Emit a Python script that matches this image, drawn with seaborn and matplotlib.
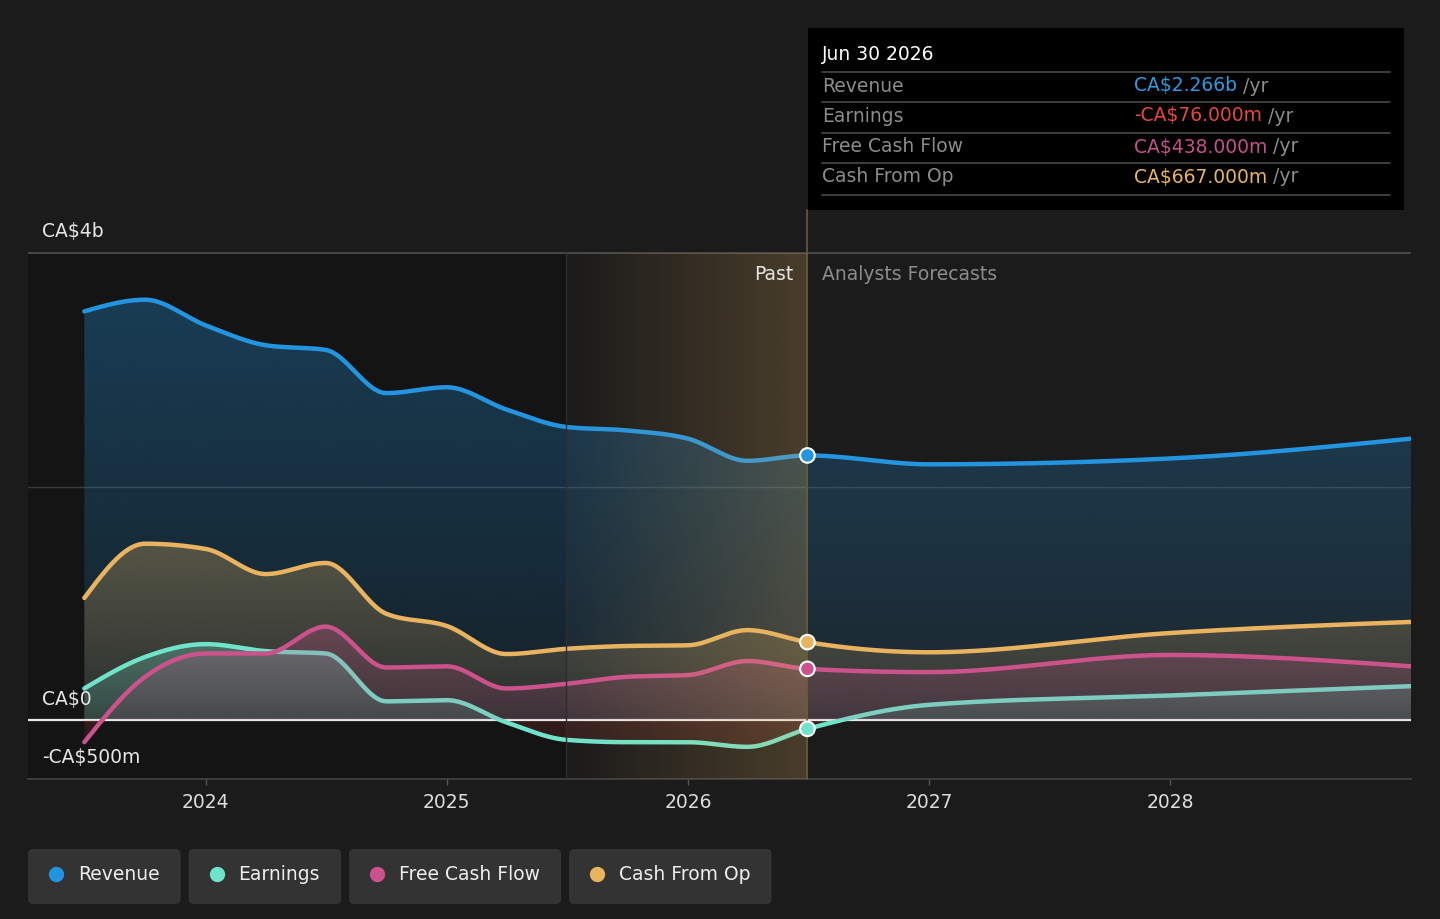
import numpy as np
import pandas as pd
import matplotlib
matplotlib.use("Agg")
import matplotlib.pyplot as plt
import seaborn as sns
from matplotlib.colors import to_rgb
from matplotlib.patches import Polygon, FancyBboxPatch, Rectangle
from matplotlib.lines import Line2D

# values in CA$ billions
past_dates = ["2023-06-30", "2023-09-30", "2023-12-31", "2024-03-31", "2024-06-30",
              "2024-09-30", "2024-12-31", "2025-03-31", "2025-06-30", "2025-09-30",
              "2025-12-31", "2026-03-31", "2026-06-30"]
forecast_dates = ["2026-12-31", "2027-12-31", "2028-12-31"]

revenue_past = [3.50, 3.60, 3.38, 3.21, 3.17, 2.80, 2.85, 2.66, 2.51, 2.48, 2.41, 2.22, 2.266]
revenue_fc = [2.19, 2.24, 2.41]
earnings_past = [0.27, 0.54, 0.65, 0.59, 0.57, 0.16, 0.17, -0.02, -0.17, -0.19, -0.19, -0.23, -0.076]
earnings_fc = [0.13, 0.21, 0.29]
fcf_past = [-0.19, 0.37, 0.57, 0.57, 0.80, 0.45, 0.46, 0.27, 0.31, 0.37, 0.385, 0.505, 0.438]
fcf_fc = [0.41, 0.557, 0.46]
cfo_past = [1.045, 1.51, 1.465, 1.25, 1.345, 0.91, 0.805, 0.565, 0.61, 0.634, 0.64, 0.77, 0.667]
cfo_fc = [0.58, 0.745, 0.84]

series_names = ["Revenue", "Earnings", "Free Cash Flow", "Cash From Op"]
series_colors = ["#2394df", "#70e3cb", "#cc528c", "#e9b360"]
tooltip_values = ["CA$2.266b", "-CA$76.000m", "CA$438.000m", "CA$667.000m"]
tooltip_colors = ["#2d9be0", "#e5483f", "#c5508c", "#e8b45f"]
year_ticks = [2024, 2025, 2026, 2027, 2028]

W, H = 1440, 919
BG = "#1b1b1b"


def fx(px):
    return px / W


def fy(py):
    return 1 - py / H


def dec_year(dates):
    d = pd.to_datetime(pd.Series(dates))
    days = np.where(d.dt.is_leap_year, 366, 365)
    return (d.dt.year + d.dt.dayofyear / days).to_numpy(float)


def monotone(xs, ys, n=2000):
    # monotone cubic (same idea as d3 curveMonotoneX)
    xs = np.asarray(xs, float)
    ys = np.asarray(ys, float)
    h = np.diff(xs)
    s = np.diff(ys) / h
    m = np.zeros(len(xs))
    for i in range(1, len(xs) - 1):
        p = (s[i - 1] * h[i] + s[i] * h[i - 1]) / (h[i - 1] + h[i])
        m[i] = (np.sign(s[i - 1]) + np.sign(s[i])) * min(abs(s[i - 1]), abs(s[i]), 0.5 * abs(p))
    m[0] = (3 * s[0] - m[1]) / 2
    m[-1] = (3 * s[-1] - m[-2]) / 2
    xd = np.linspace(xs[0], xs[-1], n)
    k = np.clip(np.searchsorted(xs, xd) - 1, 0, len(xs) - 2)
    t = (xd - xs[k]) / h[k]
    h00 = 2 * t**3 - 3 * t**2 + 1
    h10 = t**3 - 2 * t**2 + t
    h01 = -2 * t**3 + 3 * t**2
    h11 = t**3 - t**2
    yd = h00 * ys[k] + h10 * h[k] * m[k] + h01 * ys[k + 1] + h11 * h[k] * m[k + 1]
    return xd, yd


def gradient_fill(ax, xs, ys, color, a_edge, a_zero, z, negative=False):
    lo, hi = (ys.min(), 0) if negative else (0, ys.max())
    if hi - lo < 1e-6:
        return
    verts = np.column_stack([np.r_[xs[0], xs, xs[-1]], np.r_[0, ys, 0]])
    clip = Polygon(verts, closed=True, facecolor="none", edgecolor="none", transform=ax.transData)
    ax.add_patch(clip)
    rgba = np.zeros((256, 1, 4))
    rgba[..., :3] = to_rgb(color)
    if negative:
        rgba[:, 0, 3] = np.linspace(a_zero, a_edge, 256)
    else:
        rgba[:, 0, 3] = np.linspace(a_edge, a_zero, 256)
    im = ax.imshow(rgba, extent=(xs[0], xs[-1], lo, hi), origin="upper", aspect="auto",
                   zorder=z, interpolation="bilinear")
    im.set_clip_path(clip)


sns.set_style("dark")
plt.rcParams["font.family"] = ["DejaVu Sans"]

x_past = dec_year(past_dates)
x_fc = dec_year(forecast_dates)
x_all = np.r_[x_past, x_fc]
now_x = x_past[-1]
start_x = x_past[-5]

values = {
    "Revenue": revenue_past + revenue_fc,
    "Earnings": earnings_past + earnings_fc,
    "Free Cash Flow": fcf_past + fcf_fc,
    "Cash From Op": cfo_past + cfo_fc,
}
colors = dict(zip(series_names, series_colors))

smooth = {}
for name in series_names:
    xd, yd = monotone(x_all, values[name])
    smooth[name] = pd.DataFrame({"x": xd, "value": yd, "series": name})

fig = plt.figure(figsize=(W / 100, H / 100), dpi=100, facecolor=BG)
ax = fig.add_axes([fx(28), fy(779), (1411 - 28) / W, (779 - 20) / H])
ax.set_facecolor(BG)

px_per_b = (720 - 253) / 4
y_lo = (720 - 779) / px_per_b
y_hi = (720 - 20) / px_per_b
x_lo = 2024 + (28 - 206) / 241.25
x_hi = x_all[-1]

# darker past background
ax.fill_between([x_lo, start_x], y_lo, 4.0, color="#141414", lw=0, zorder=0)

# grid lines
ax.plot([x_lo, x_hi], [4, 4], color="#555555", lw=1.1, zorder=1)
ax.plot([x_lo, x_hi], [2, 2], color="#3a3a3a", lw=1.0, zorder=1)

# each series: gradient fill then its line, later series cover earlier lines
fill_alpha = {"Revenue": (0.32, 0.10), "Cash From Op": (0.30, 0.10),
              "Earnings": (0.30, 0.14), "Free Cash Flow": (0.28, 0.12)}
draw_order = ["Revenue", "Cash From Op", "Earnings", "Free Cash Flow"]
for i, name in enumerate(draw_order):
    d = smooth[name]
    xd, yd = d["x"].to_numpy(), d["value"].to_numpy()
    z = 2 + i * 0.2
    gradient_fill(ax, xd, np.maximum(yd, 0), colors[name], *fill_alpha[name], z)
    if yd.min() < 0:
        gradient_fill(ax, xd, np.minimum(yd, 0), "#e5483f", 0.10, 0.16, z, negative=True)
    if name == "Earnings":
        ax.plot([x_lo, x_hi], [0, 0], color="#e8e8e8", lw=1.6, zorder=z + 0.05)
    sns.lineplot(data=d, x="x", y="value", color=colors[name], lw=3.2, legend=False,
                 estimator=None, sort=False, ax=ax, zorder=z + 0.1)

# highlight of the last past year
grad = np.zeros((1, 256, 4))
grad[..., :3] = to_rgb("#e8b45f")
grad[0, :, 3] = np.linspace(0.0, 0.23, 256)
ax.imshow(grad, extent=(start_x, now_x, y_lo, 4.0), origin="upper", aspect="auto",
          zorder=5, interpolation="bilinear")
ax.plot([start_x, start_x], [y_lo, 4.0], color="#2f2d2a", lw=1.0, zorder=5)
ax.plot([now_x, now_x], [y_lo, (720 - 210) / px_per_b], color="#6b5a3a", lw=1.2, zorder=5,
        clip_on=False)

# markers at the tooltip date
mk = pd.DataFrame({"x": [now_x] * 4, "value": [values[n][len(x_past) - 1] for n in series_names],
                   "series": series_names})
sns.scatterplot(data=mk, x="x", y="value", hue="series", hue_order=series_names,
                palette=series_colors, s=110, edgecolor="white", linewidth=1.5,
                legend=False, ax=ax, zorder=6)

ax.set_xlim(x_lo, x_hi)
ax.set_ylim(y_lo, y_hi)
ax.set_xticks(year_ticks)
ax.set_xticklabels([str(y) for y in year_ticks])
ax.set_yticks([])
ax.set_xlabel("")
ax.set_ylabel("")
ax.grid(False)
for side in ["top", "left", "right"]:
    ax.spines[side].set_visible(False)
ax.spines["bottom"].set_color("#444444")
ax.spines["bottom"].set_linewidth(1.2)
ax.tick_params(axis="x", length=4, width=1, color="#555555", labelcolor="#dddddd",
               labelsize=13.5, pad=6, bottom=True)

# y labels
fig.text(fx(42), fy(232), "CA$4b", color="#e6e6e6", size=13.5, va="center", ha="left")
fig.text(fx(42), fy(699), "CA$0", color="#e6e6e6", size=13.5, va="center", ha="left")
fig.text(fx(42), fy(758), "-CA$500m", color="#e6e6e6", size=13.5, va="center", ha="left")

fig.text(fx(793), fy(274), "Past", color="#e6e6e6", size=13.5, va="center", ha="right")
fig.text(fx(822), fy(274), "Analysts Forecasts", color="#8c8c8c", size=13.5, va="center", ha="left")

# tooltip
fig.patches.append(Rectangle((fx(808), fy(210)), 596 / W, 182 / H, transform=fig.transFigure,
                             facecolor="black", edgecolor="none", zorder=3))
fig.text(fx(822), fy(55), "Jun 30 2026", color="white", size=13.5, va="center", ha="left", zorder=4)
for yy in [72, 102, 133, 163, 195]:
    fig.add_artist(Line2D([fx(822), fx(1390)], [fy(yy)] * 2, color="#4a4a4a", lw=1.2,
                          transform=fig.transFigure, zorder=4))
for yy, name, val, col in zip([86, 116, 147, 177], series_names, tooltip_values, tooltip_colors):
    fig.text(fx(822), fy(yy), name, color="#8c8c8c", size=13.5, va="center", ha="left", zorder=4)
    t = fig.text(fx(1134), fy(yy), val, color=col, size=13.5, va="center", ha="left", zorder=4)
    fig.add_artist(matplotlib.text.Annotation(" /yr", xy=(1, 0.5), xycoords=t, va="center",
                                              ha="left", color="#8c8c8c", size=13.5, zorder=4))

# legend chips
renderer = fig.canvas.get_renderer()
x0 = 28
for name, col in zip(series_names, series_colors):
    t = fig.text(fx(x0 + 50), fy(874), name, color="#eeeeee", size=13.5, va="center",
                 ha="left", zorder=3)
    w = 50 + t.get_window_extent(renderer).width + 21
    fig.patches.append(FancyBboxPatch((fx(x0), fy(904)), w / W, 55 / H,
                                      boxstyle="round,pad=0,rounding_size=%f" % (5 / W),
                                      mutation_aspect=W / H, transform=fig.transFigure,
                                      facecolor="#333333", edgecolor="none", zorder=1))
    fig.add_artist(Line2D([fx(x0 + 28)], [fy(874)], marker="o", ms=10, color=col, lw=0,
                          transform=fig.transFigure, zorder=3))
    x0 += w + 8

fig.savefig("out.png", dpi=100, facecolor=BG)
